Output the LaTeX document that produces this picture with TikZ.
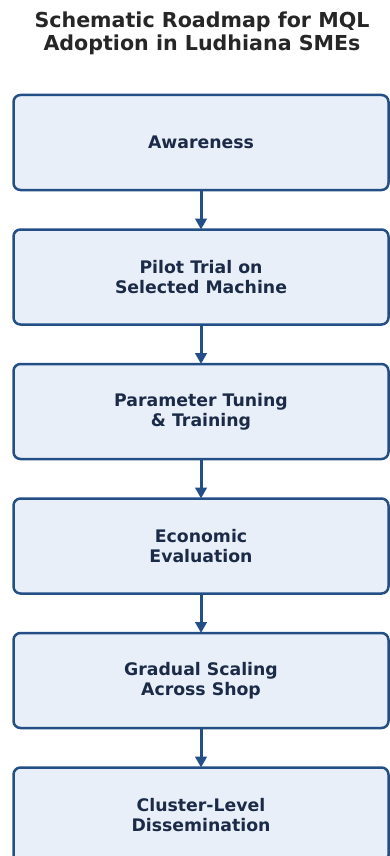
\documentclass[tikz,border=0pt]{standalone}
\usepackage{fontspec}
\setmainfont{DejaVu Sans}
\usetikzlibrary{arrows.meta}
\usetikzlibrary{positioning}
\definecolor{stepline}{HTML}{234E86}
\definecolor{stepfill}{HTML}{E8EFF8}
\definecolor{steptext}{HTML}{1B2A47}
\definecolor{titletext}{HTML}{262626}
\tikzset{
    stage/.style={
        draw=stepline, fill=stepfill, line width=2.5pt, rounded corners=7pt,
        minimum width=375pt, minimum height=95pt, inner sep=0pt, outer sep=0pt,
        align=center, text=steptext, font=\fontsize{17.3}{20}\selectfont\bfseries},
    flow/.style={draw=stepline, line width=3pt, -{Triangle[length=11pt, width=11.5pt]}},
}

\begin{document}
\begin{tikzpicture}[x=1pt, y=1pt]

    \def\gap{39.5}

    \useasboundingbox (0,0) rectangle (389,-856);

    \node[align=center, text=titletext, font=\fontsize{20.6}{23.5}\selectfont\bfseries]
        (T) at (202,-33.5) {Schematic Roadmap for MQL\\Adoption in Ludhiana SMEs};

    \node[stage] (S1) at (201,-142.5) {Awareness};
    \node[stage, below=\gap of S1] (S2) {Pilot Trial on\\Selected Machine};
    \node[stage, below=\gap of S2] (S3) {Parameter Tuning\\\& Training};
    \node[stage, below=\gap of S3] (S4) {Economic\\Evaluation};
    \node[stage, below=\gap of S4] (S5) {Gradual Scaling\\Across Shop};
    \node[stage, below=\gap of S5] (S6) {Cluster-Level\\Dissemination};

    \draw[flow] (S1) -- (S2);
    \draw[flow] (S2) -- (S3);
    \draw[flow] (S3) -- (S4);
    \draw[flow] (S4) -- (S5);
    \draw[flow] (S5) -- (S6);

\end{tikzpicture}
\end{document}
